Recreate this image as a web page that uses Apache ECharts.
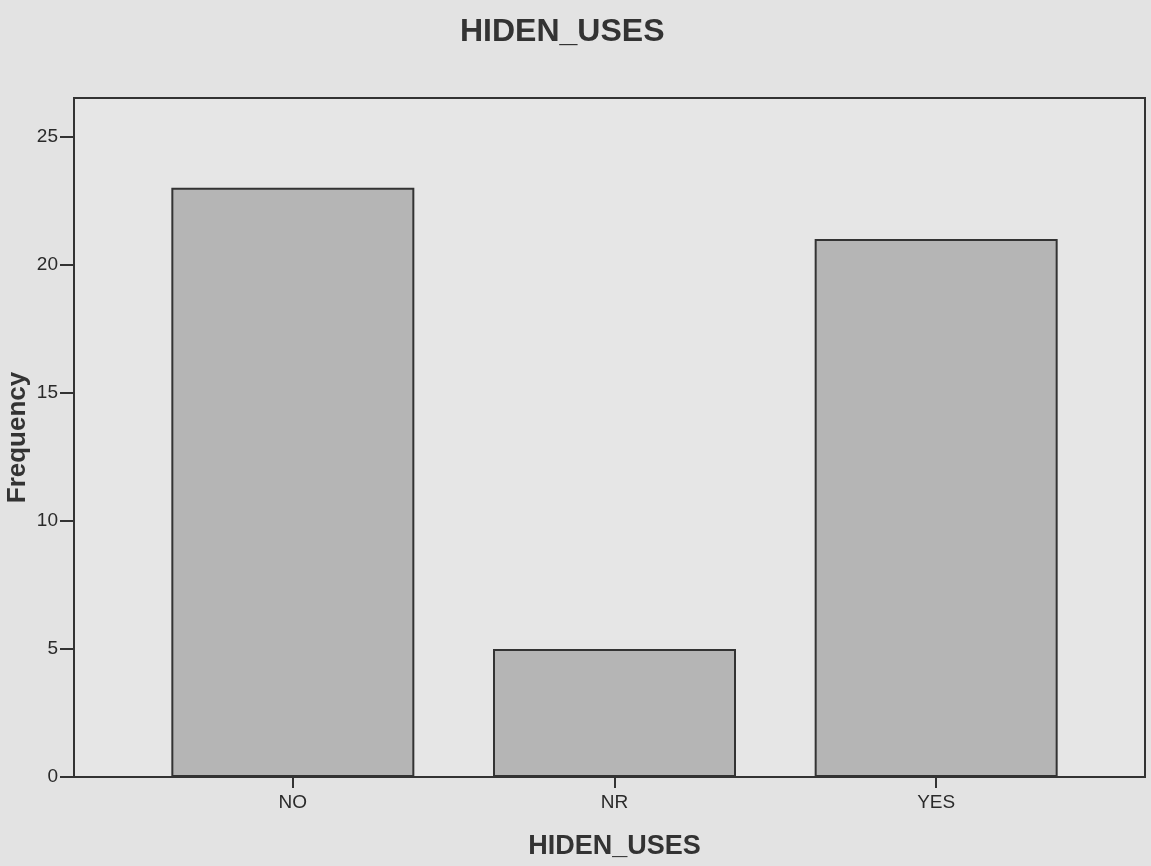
<!DOCTYPE html>
<html>
<head>
<meta charset="UTF-8">
<title>HIDEN_USES</title>
<script src="https://cdn.jsdelivr.net/npm/echarts@6/dist/echarts.min.js"></script>
<style>
  html, body { margin: 0; padding: 0; background: #e3e3e3; }
</style>
</head>
<body>
<div id="main" style="width:1151px;height:866px;"></div>
<script type="text/javascript">
var categories = ['NO', 'NR', 'YES'];
var frequency = [23, 5, 21];
var yTicks = [0, 5, 10, 15, 20, 25];

var yMax = 26.5;
var font = 'Liberation Sans, Arial, sans-serif';

var myChart = echarts.init(document.getElementById('main'));
myChart.setOption({
    backgroundColor: '#e3e3e3',
    animation: false,
    title: {
        text: 'HIDEN_USES',
        left: 455,
        top: 11,
        textStyle: { fontFamily: font, fontSize: 32, fontWeight: 'bold', color: '#333' }
    },
    grid: [
        // frame of the plot
        { left: 74, right: 6, top: 98, bottom: 89, outerBoundsMode: 'none', containLabel: false,
          show: true, borderColor: '#333', borderWidth: 2, backgroundColor: '#e6e6e6' },
        // bars
        { left: 132, right: 54, top: 98, bottom: 89, outerBoundsMode: 'none', containLabel: false }
    ],
    xAxis: [
        { type: 'value', gridIndex: 0, show: false, min: 0, max: 1 },
        {
            type: 'category',
            gridIndex: 1,
            data: categories,
            axisLine: { show: false },
            axisTick: { show: true, alignWithLabel: true, length: 11, lineStyle: { color: '#333', width: 2 } },
            axisLabel: { fontFamily: font, fontSize: 19, color: '#2a2a2a', margin: 16 },
            name: 'HIDEN_USES',
            nameLocation: 'middle',
            nameGap: 56,
            nameMoveOverlap: false,
            nameTextStyle: { fontFamily: font, fontSize: 27, fontWeight: 'bold', color: '#333' }
        }
    ],
    yAxis: [
        {
            type: 'value',
            gridIndex: 0,
            min: 0,
            max: yMax,
            interval: 5,
            splitLine: { show: false },
            axisLine: { show: true, lineStyle: { color: '#333', width: 2 } },
            axisTick: { show: true, length: 14, customValues: yTicks, lineStyle: { color: '#333', width: 2 } },
            axisLabel: {
                fontFamily: font, fontSize: 19, color: '#2a2a2a', margin: 16,
                customValues: yTicks
            },
            name: 'Frequency',
            nameLocation: 'middle',
            nameRotate: 90,
            nameGap: 43,
            nameMoveOverlap: false,
            nameTextStyle: { fontFamily: font, fontSize: 26, fontWeight: 'bold', color: '#333' }
        },
        { type: 'value', gridIndex: 1, min: 0, max: yMax, show: false }
    ],
    series: [{
        type: 'bar',
        xAxisIndex: 1,
        yAxisIndex: 1,
        data: frequency,
        barWidth: 243,
        itemStyle: { color: '#b5b5b5', borderColor: '#333', borderWidth: 2 }
    }]
});
</script>
</body>
</html>
